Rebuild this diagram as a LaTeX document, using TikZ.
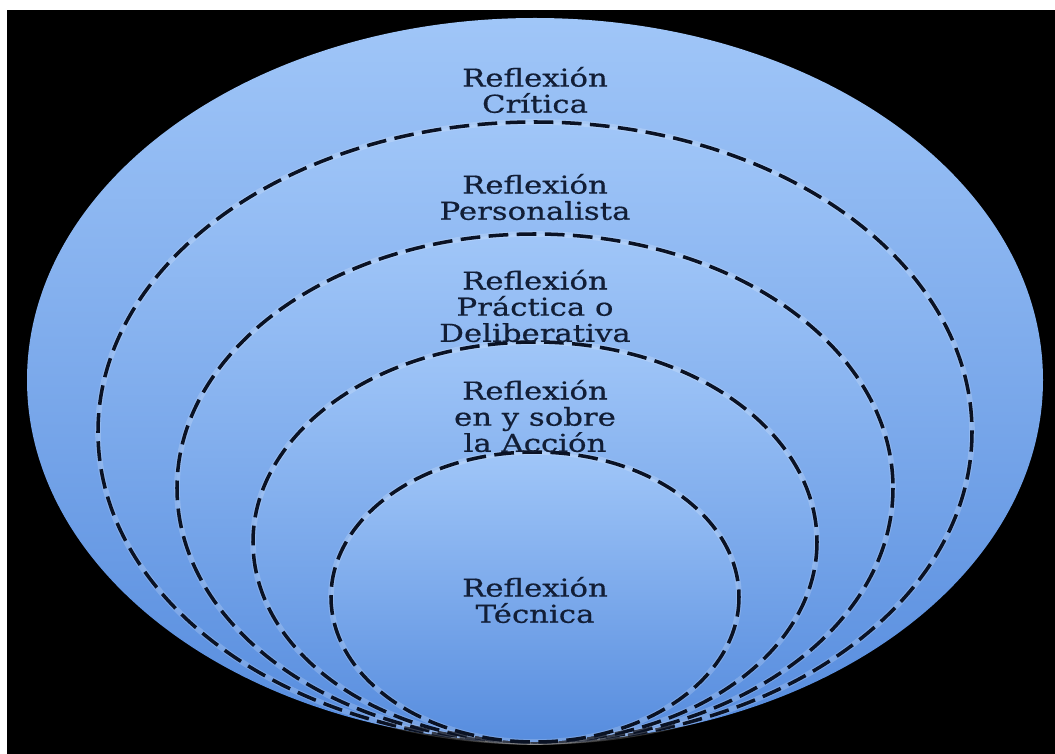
\documentclass[tikz,border=0pt]{standalone}
\usepackage{fontspec}
\setmainfont[FakeStretch=1.25, FakeBold=0.6]{DejaVu Serif}
\usetikzlibrary{positioning}
\definecolor{skyTop}{RGB}{160,198,248}
\definecolor{skyMid}{RGB}{146,188,244}
\definecolor{skyBottom}{RGB}{86,140,222}
\definecolor{inkNavy}{RGB}{18,30,54}
\definecolor{dashNavy}{RGB}{10,18,36}
\tikzset{
  zone/.style={
    top color = skyTop,
    middle color = skyMid,
    bottom color = skyBottom
  },
  rim/.style={
    draw = dashNavy,
    line width = 2.5pt,
    dash pattern = on 14pt off 6pt
  },
  halo/.style={
    draw = white,
    opacity = 0.18,
    line width = 4pt
  },
  ringtext/.style={
    align = center,
    text = inkNavy,
    inner sep = 0pt,
    font = \fontsize{17.5}{18.6}\selectfont
  }
}

\begin{document}
\begin{tikzpicture}[x=0.025cm, y=-0.025cm]
    \useasboundingbox (0,0) rectangle (1055,754);
    \fill[white] (0,0) rectangle (1055,754);
    \fill[black] (7,10) rectangle (1055,754);

    % outer zone
    \shade[zone] (535,380) ellipse [x radius=508, y radius=362];

    % nested zones, all touching at the bottom
    \shade[zone] (535,432) ellipse [x radius=437, y radius=310];
    \draw[halo] (535,432) ellipse [x radius=437, y radius=310];
    \draw[rim] (535,432) ellipse [x radius=437, y radius=310];

    \shade[zone] (535,488) ellipse [x radius=358, y radius=254];
    \draw[halo] (535,488) ellipse [x radius=358, y radius=254];
    \draw[rim] (535,488) ellipse [x radius=358, y radius=254];

    \shade[zone] (535,542) ellipse [x radius=282, y radius=200];
    \draw[halo] (535,542) ellipse [x radius=282, y radius=200];
    \draw[rim] (535,542) ellipse [x radius=282, y radius=200];

    \shade[zone] (535,597) ellipse [x radius=204, y radius=145];
    \draw[halo] (535,597) ellipse [x radius=204, y radius=145];
    \draw[rim] (535,597) ellipse [x radius=204, y radius=145];

    % labels
    \node[ringtext] (critica) at (535,90) {Reflexión\\Crítica};
    \node[ringtext] (personal) at (535,197) {Reflexión\\Personalista};
    \node[ringtext] (practica) at (535,306) {Reflexión\\Práctica o\\Deliberativa};
    \node[ringtext] (accion) at (535,416) {Reflexión\\en y sobre\\la Acción};
    \node[ringtext] (tecnica) at (535,600) {Reflexión\\Técnica};
\end{tikzpicture}
\end{document}
